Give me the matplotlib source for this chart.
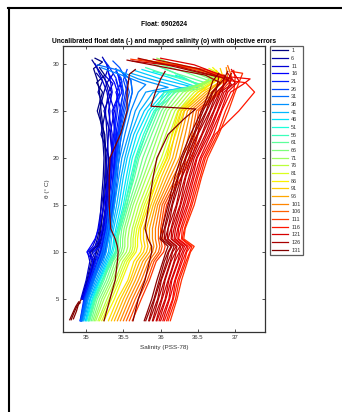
import numpy as np
import matplotlib
matplotlib.use('Agg')
import matplotlib.pyplot as plt
from matplotlib.lines import Line2D

nan = np.nan

# ---------------- data ----------------
THETA = [2.7, 5, 7, 9, 10, 10.6, 11.4, 12.5, 15, 18, 20, 22.5, 25, 27]
N_PROF = 131
LEGEND_IDS = list(range(1, 132, 5))
X_TICKS = [35, 35.5, 36, 36.5, 37]
Y_TICKS = [5, 10, 15, 20, 25, 30]

BLUE_IDS = [1, 2, 4, 5, 7, 8, 10, 11, 13, 14, 16, 17, 19, 20, 22, 23, 25, 26, 28, 29]
BLUE_SAL = [
    [nan, 34.96, 35.03, 35.10, 35.14, 35.16, 35.18, 35.20, 35.23, 35.25, 35.26, 35.24, 35.20, 35.18],
    [nan, 34.95, 35.02, 35.09, 35.06, 35.14, 35.17, 35.19, 35.24, 35.27, 35.27, 35.25, 35.15, 35.22],
    [nan, 34.94, 35.01, 35.07, 35.05, 35.12, 35.15, 35.18, 35.20, 35.23, 35.24, 35.22, 35.18, 35.24],
    [nan, 34.97, 35.04, 35.11, 35.13, 35.15, 35.20, 35.22, 35.26, 35.28, 35.31, 35.20, 35.26, 35.16],
    [nan, 34.97, 35.05, 35.12, 35.16, 35.18, 35.21, 35.23, 35.27, 35.29, 35.30, 35.28, 35.26, 35.30],
    [nan, 34.96, 35.04, 35.13, 35.08, 35.17, 35.20, 35.24, 35.28, 35.31, 35.35, 35.33, 35.24, 35.34],
    [nan, 34.93, 35.00, 35.05, 35.02, 35.09, 35.13, 35.16, 35.21, 35.26, 35.28, 35.30, 35.32, 35.28],
    [nan, 34.98, 35.07, 35.16, 35.19, 35.21, 35.23, 35.26, 35.30, 35.34, 35.36, 35.32, 35.38, 35.30],
    [nan, 34.98, 35.06, 35.15, 35.20, 35.22, 35.24, 35.26, 35.30, 35.33, 35.34, 35.35, 35.30, 35.35],
    [nan, 34.96, 35.05, 35.12, 35.04, 35.12, 35.18, 35.22, 35.27, 35.31, 35.34, 35.39, 35.35, 35.45],
    [nan, 34.95, 35.03, 35.09, 35.01, 35.06, 35.12, 35.17, 35.24, 35.30, 35.33, 35.37, 35.40, 35.42],
    [nan, 34.98, 35.07, 35.16, 35.21, 35.23, 35.26, 35.28, 35.34, 35.37, 35.39, 35.42, 35.47, 35.40],
    [nan, 34.99, 35.08, 35.18, 35.22, 35.25, 35.27, 35.29, 35.33, 35.36, 35.38, 35.40, 35.45, 35.50],
    [34.93, 34.99, 35.08, 35.17, 35.10, 35.19, 35.24, 35.27, 35.32, 35.36, 35.38, 35.41, 35.36, 35.48],
    [34.92, 34.97, 35.05, 35.13, 35.18, 35.20, 35.22, 35.25, 35.29, 35.33, 35.36, 35.38, 35.42, 35.45],
    [34.94, 35.00, 35.10, 35.20, 35.25, 35.27, 35.29, 35.31, 35.35, 35.38, 35.40, 35.44, 35.48, 35.53],
    [34.94, 35.00, 35.09, 35.19, 35.24, 35.27, 35.29, 35.31, 35.36, 35.39, 35.41, 35.44, 35.50, 35.55],
    [34.92, 34.98, 35.08, 35.18, 35.23, 35.25, 35.27, 35.30, 35.35, 35.39, 35.41, 35.43, 35.46, 35.50],
    [34.93, 34.99, 35.07, 35.16, 35.22, 35.26, 35.28, 35.31, 35.37, 35.40, 35.42, 35.45, 35.52, 35.58],
    [34.94, 35.01, 35.10, 35.21, 35.26, 35.28, 35.30, 35.33, 35.38, 35.42, 35.44, 35.47, 35.55, 35.62],
]
BLUE_TOP = [
    [(35.15, 28.3), (35.10, 29.5), (35.22, 30.2), (35.12, 30.6)],
    [(35.14, 28.0), (35.25, 28.8), (35.18, 29.6)],
    [(35.28, 28.0), (35.18, 29.2), (35.08, 30.4)],
    [(35.22, 28.2), (35.14, 29.0)],
    [(35.25, 28.5), (35.30, 29.6), (35.22, 30.7)],
    [(35.28, 28.0), (35.36, 28.9)],
    [(35.20, 28.6), (35.12, 30.0)],
    [(35.36, 27.9), (35.26, 28.7)],
    [(35.32, 28.4), (35.28, 29.8)],
    [(35.40, 28.3)],
    [(35.38, 28.0), (35.30, 29.0)],
    [(35.48, 28.1), (35.42, 29.0)],
    [(35.45, 28.2), (35.40, 29.5)],
    [(35.44, 28.4)],
    [(35.40, 28.5), (35.30, 29.8), (35.24, 30.4)],
    [(35.56, 28.0), (35.50, 28.8)],
    [(35.50, 28.3), (35.55, 29.4)],
    [(35.47, 28.5), (35.40, 29.2)],
    [(35.52, 28.6), (35.45, 29.6), (35.36, 30.3)],
    [(35.60, 28.3), (35.50, 29.0)],
]

CYAN_IDS = [31, 34, 37, 40, 43, 46, 49, 52, 55]
CYAN_SAL = [
    [34.93, 35.00, 35.09, 35.17, 35.21, 35.23, 35.25, 35.28, 35.31, 35.38, 35.42, 35.48, 35.56, 35.62],
    [34.95, 35.02, 35.11, 35.20, 35.24, 35.25, 35.27, 35.30, 35.34, 35.40, 35.45, 35.52, 35.60, 35.70],
    [34.96, 35.03, 35.13, 35.23, 35.27, 35.28, 35.30, 35.33, 35.38, 35.44, 35.48, 35.57, 35.66, 35.80],
    [34.97, 35.05, 35.15, 35.25, 35.30, 35.31, 35.32, 35.35, 35.41, 35.47, 35.52, 35.60, 35.72, 35.90],
    [34.99, 35.06, 35.17, 35.27, 35.32, 35.33, 35.34, 35.37, 35.44, 35.50, 35.55, 35.64, 35.78, 35.98],
    [35.00, 35.08, 35.18, 35.29, 35.34, 35.36, 35.37, 35.40, 35.47, 35.54, 35.59, 35.68, 35.83, 36.05],
    [35.01, 35.09, 35.19, 35.31, 35.36, 35.38, 35.38, 35.42, 35.50, 35.57, 35.62, 35.73, 35.87, 36.10],
    [35.03, 35.10, 35.21, 35.33, 35.39, 35.40, 35.40, 35.44, 35.52, 35.60, 35.66, 35.77, 35.91, 36.15],
    [35.04, 35.12, 35.22, 35.35, 35.41, 35.42, 35.42, 35.46, 35.55, 35.63, 35.69, 35.80, 35.94, 36.20],
]
CYAN_TOP = [
    [(35.60, 28.3), (35.45, 29.3), (35.15, 29.9)],
    [(35.80, 27.8), (35.55, 28.6), (35.20, 29.6)],
    [(36.10, 27.5), (35.70, 28.4), (35.40, 29.4)],
    [(36.30, 27.4), (35.90, 28.3), (35.60, 29.0)],
    [(36.40, 27.6), (36.00, 28.4), (35.65, 29.3)],
    [(36.50, 27.5), (36.10, 28.6), (35.75, 29.4)],
    [(36.55, 27.7), (36.20, 28.8)],
    [(36.60, 27.4), (36.30, 28.5), (35.90, 29.2)],
    [(36.50, 27.8), (36.20, 29.0), (35.95, 29.8)],
]

GREEN_IDS = [58, 61, 64, 67, 70, 73, 76, 79, 82, 85]
GREEN_SAL = [
    [35.03, 35.11, 35.22, 35.31, 35.39, 35.41, 35.41, 35.43, 35.52, 35.62, 35.67, 35.80, 35.93, 36.05],
    [35.05, 35.13, 35.24, 35.33, 35.41, 35.43, 35.43, 35.45, 35.54, 35.65, 35.71, 35.84, 35.97, 36.12],
    [35.07, 35.15, 35.27, 35.36, 35.44, 35.46, 35.46, 35.48, 35.57, 35.69, 35.76, 35.88, 36.01, 36.18],
    [35.09, 35.18, 35.30, 35.39, 35.47, 35.49, 35.49, 35.51, 35.60, 35.73, 35.81, 35.93, 36.05, 36.24],
    [35.11, 35.21, 35.33, 35.42, 35.50, 35.52, 35.52, 35.54, 35.63, 35.77, 35.86, 35.97, 36.09, 36.30],
    [35.13, 35.24, 35.36, 35.45, 35.54, 35.56, 35.56, 35.58, 35.67, 35.81, 35.91, 36.02, 36.14, 36.35],
    [35.16, 35.28, 35.39, 35.49, 35.58, 35.60, 35.60, 35.62, 35.71, 35.86, 35.96, 36.07, 36.19, 36.40],
    [35.18, 35.31, 35.42, 35.52, 35.61, 35.63, 35.63, 35.65, 35.75, 35.90, 36.01, 36.12, 36.23, 36.45],
    [35.21, 35.34, 35.45, 35.55, 35.64, 35.66, 35.66, 35.68, 35.78, 35.94, 36.05, 36.16, 36.27, 36.50],
    [35.24, 35.38, 35.48, 35.58, 35.67, 35.69, 35.69, 35.71, 35.81, 35.97, 36.09, 36.20, 36.31, 36.55],
]
GREEN_TOP = [
    [(36.55, 27.8), (36.10, 28.8), (35.80, 29.6)],
    [(36.60, 28.0), (36.20, 29.0), (35.90, 30.0)],
    [(36.65, 28.2), (36.30, 29.2), (35.85, 30.3)],
    [(36.70, 28.3), (36.35, 29.4), (36.00, 30.4)],
    [(36.75, 28.4), (36.40, 29.3), (35.95, 30.6)],
    [(36.70, 28.6), (36.45, 29.5)],
    [(36.75, 28.5), (36.55, 29.4), (36.20, 30.0)],
    [(36.80, 28.6), (36.60, 29.2)],
    [(36.85, 28.7), (36.65, 29.5)],
    [(36.80, 28.8), (36.70, 29.6)],
]

ORANGE_IDS = [88, 91, 94, 97, 100, 103, 106, 109, 112]
ORANGE_SAL = [
    [35.30, 35.42, 35.56, 35.64, 35.73, 35.75, 35.73, 35.73, 35.84, 35.97, 36.08, 36.15, 36.24, 36.50],
    [35.34, 35.46, 35.59, 35.68, 35.77, 35.79, 35.77, 35.77, 35.87, 36.01, 36.12, 36.19, 36.28, 36.55],
    [35.38, 35.50, 35.62, 35.72, 35.81, 35.83, 35.81, 35.81, 35.90, 36.05, 36.16, 36.24, 36.32, 36.60],
    [35.42, 35.54, 35.66, 35.76, 35.85, 35.87, 35.85, 35.85, 35.93, 36.09, 36.20, 36.28, 36.36, 36.64],
    [35.46, 35.58, 35.70, 35.80, 35.89, 35.91, 35.89, 35.89, 35.96, 36.13, 36.25, 36.33, 36.40, 36.68],
    [35.50, 35.62, 35.74, 35.84, 35.93, 35.95, 35.93, 35.93, 35.99, 36.17, 36.30, 36.38, 36.44, 36.72],
    [35.54, 35.66, 35.78, 35.88, 35.97, 35.99, 35.97, 35.97, 36.02, 36.21, 36.34, 36.42, 36.48, 36.76],
    [35.58, 35.70, 35.82, 35.91, 36.00, 36.02, 36.00, 36.00, 36.05, 36.24, 36.38, 36.46, 36.51, 36.78],
    [35.62, 35.74, 35.85, 35.94, 36.04, 36.06, 36.03, 36.02, 36.08, 36.28, 36.42, 36.50, 36.54, 36.80],
]
ORANGE_TOP = [
    [(36.80, 28.5), (36.75, 29.3)],
    [(36.85, 28.3), (36.80, 29.5)],
    [(36.90, 28.4), (36.70, 29.0), (36.20, 30.0)],
    [(36.85, 28.6), (36.60, 29.2), (35.95, 30.3)],
    [(36.90, 28.5), (36.88, 29.6)],
    [(36.85, 28.8), (36.50, 29.4), (35.80, 30.4)],
    [(36.95, 28.7), (36.90, 29.8)],
    [(36.90, 28.5), (36.40, 29.6), (35.70, 30.5)],
    [(36.95, 28.3), (36.60, 29.4), (35.60, 30.5)],
]

RED_IDS = [129, 128, 127, 126, 125, 124, 123, 122, 121, 120, 119, 118, 116, 115, 113]
RED_SAL = [
    [35.78, 35.88, 35.95, 36.03, 36.07, 36.10, 35.99, 36.02, 36.10, 36.19, 36.27, 36.40, 36.55, 36.65],
    [35.80, 35.91, 35.98, 36.05, 36.10, 36.14, 36.01, 36.05, 36.12, 36.23, 36.29, 36.44, 36.57, 36.69],
    [35.84, 35.92, 36.00, 36.08, 36.11, 36.15, 36.05, 36.06, 36.15, 36.24, 36.33, 36.45, 36.61, 36.70],
    [35.85, 35.96, 36.01, 36.10, 36.15, 36.18, 36.06, 36.10, 36.16, 36.28, 36.34, 36.49, 36.62, 36.74],
    [35.89, 35.97, 36.05, 36.13, 36.16, 36.21, 36.09, 36.10, 36.21, 36.29, 36.38, 36.50, 36.66, 36.75],
    [35.90, 36.01, 36.06, 36.14, 36.20, 36.22, 36.10, 36.14, 36.22, 36.33, 36.40, 36.55, 36.67, 36.79],
    [35.94, 36.02, 36.10, 36.18, 36.21, 36.26, 36.14, 36.15, 36.26, 36.34, 36.43, 36.56, 36.71, 36.80],
    [35.95, 36.06, 36.11, 36.19, 36.25, 36.27, 36.15, 36.18, 36.27, 36.38, 36.45, 36.60, 36.72, 36.83],
    [35.98, 36.07, 36.14, 36.23, 36.26, 36.30, 36.18, 36.20, 36.30, 36.40, 36.48, 36.62, 36.76, 36.85],
    [36.00, 36.11, 36.15, 36.24, 36.29, 36.32, 36.20, 36.23, 36.32, 36.43, 36.49, 36.65, 36.77, 36.88],
    [36.03, 36.12, 36.19, 36.27, 36.31, 36.35, 36.23, 36.24, 36.35, 36.45, 36.53, 36.67, 36.81, 36.90],
    [36.05, 36.16, 36.20, 36.29, 36.34, 36.37, 36.24, 36.27, 36.37, 36.48, 36.55, 36.71, 36.82, 36.94],
    [36.08, 36.17, 36.23, 36.32, 36.35, 36.40, 36.28, 36.29, 36.40, 36.50, 36.58, 36.73, 37.05, 37.26],
    [36.10, 36.20, 36.25, 36.34, 36.39, 36.42, 36.29, 36.32, 36.42, 36.53, 36.60, 36.76, 36.87, 36.98],
    [36.13, 36.22, 36.28, 36.36, 36.40, 36.45, 36.31, 36.33, 36.45, 36.55, 36.63, 36.78, 36.91, 37.00],
]
RED_TOP = [
    [(36.70, 28.2), (36.78, 29.0)],
    [(36.80, 28.0), (36.60, 28.8), (35.55, 30.4)],
    [(36.85, 28.4), (36.90, 29.2)],
    [(36.78, 28.6), (36.40, 29.3), (35.70, 30.6)],
    [(36.88, 28.0), (36.95, 29.0)],
    [(36.90, 28.3), (36.50, 29.5), (35.90, 30.5)],
    [(36.95, 27.8), (36.85, 28.8)],
    [(36.85, 28.5), (36.20, 29.8), (35.62, 30.3)],
    [(37.00, 28.0), (36.90, 29.0)],
    [(36.95, 28.4), (36.45, 29.9), (36.00, 30.6)],
    [(37.05, 28.2), (36.95, 29.4)],
    [(37.10, 27.8), (37.20, 28.4), (36.95, 28.6)],
    [(37.14, 28.0), (36.85, 28.3)],
    [(37.00, 28.5), (36.98, 29.3)],
    [(37.05, 28.0), (37.10, 29.0), (36.95, 29.2)],
]

MAROON_IDS = [131, 130]
MAROON_SAL = [
    [35.24, 35.32, 35.39, 35.42, 35.43, 35.42, 35.39, 35.33, 35.31, 35.31, 35.32, 35.46, 35.55, 35.55],
    [35.63, 35.70, 35.79, 35.85, 35.88, 35.88, 35.83, 35.79, 35.84, 35.90, 35.95, 36.10, nan, nan],
]
MAROON_TOP = [
    [(35.58, 28.9), (35.66, 29.4)],
    [(36.32, 24.2), (36.47, 25.2), (35.87, 25.5), (35.93, 27.0), (36.00, 28.4), (36.06, 29.2)],
]

DEEP_IDS = [131, 131, 130]
DEEP_SAL = [[34.78, 34.82, 34.86, 34.90], [34.80, 34.84, 34.88, 34.92], [34.83, 34.87, 34.90, 34.93]]
DEEP_THETA = [[2.8, 3.5, 4.2, 4.7], [2.8, 3.6, 4.3, 4.6], [2.9, 3.7, 4.5, 4.9]]

# ---------------- figure ----------------
plt.rcParams['font.family'] = ['Liberation Sans', 'DejaVu Sans']
fig = plt.figure(figsize=(3.42, 4.12), dpi=100)
W, H = 342.0, 412.0
ax = fig.add_axes([63 / W, 1 - 332 / H, 202 / W, 286 / H])

cmap = plt.get_cmap('jet')


def col(p):
    return cmap((p - 1) / (N_PROF - 1))


profiles = []
for ids, sal, top in [(BLUE_IDS, BLUE_SAL, BLUE_TOP), (CYAN_IDS, CYAN_SAL, CYAN_TOP),
                      (GREEN_IDS, GREEN_SAL, GREEN_TOP), (ORANGE_IDS, ORANGE_SAL, ORANGE_TOP),
                      (RED_IDS, RED_SAL, RED_TOP), (MAROON_IDS, MAROON_SAL, MAROON_TOP)]:
    for p, s, t in zip(ids, sal, top):
        xs = [v for v in s if not np.isnan(v)] + [q[0] for q in t]
        ys = [th for th, v in zip(THETA, s) if not np.isnan(v)] + [q[1] for q in t]
        profiles.append((p, xs, ys))
for p, s, t in zip(DEEP_IDS, DEEP_SAL, DEEP_THETA):
    profiles.append((p, s, t))

profiles.sort(key=lambda r: r[0])
for p, xs, ys in profiles:
    ax.plot(xs, ys, color=col(p), lw=0.9, solid_joinstyle='round')

ax.set_xlim(34.69, 37.40)
ax.set_ylim(1.5, 31.9)
ax.set_xticks(X_TICKS)
ax.set_xticklabels(['35', '35.5', '36', '36.5', '37'])
ax.set_yticks(Y_TICKS)
ax.tick_params(direction='in', length=2.5, width=0.6, colors='#333333', labelsize=4.3,
               top=True, right=True, pad=2.5)
for sp in ax.spines.values():
    sp.set_color('#333333')
    sp.set_linewidth(0.9)

ax.set_xlabel('Salinity (PSS-78)', fontsize=4.6, color='#333333', labelpad=3)
ax.set_ylabel('θ (° C)', fontsize=4.6, color='#333333', labelpad=2)
ax.set_title('Uncalibrated float data (-) and mapped salinity (o) with objective errors',
             fontsize=4.8, fontweight='bold', pad=2)
fig.text(164 / W, 1 - 24 / H, 'Float: 6902624', ha='center', va='center',
         fontsize=4.8, fontweight='bold')

handles = [Line2D([], [], color=col(p), lw=0.9) for p in LEGEND_IDS]
leg = fig.legend(handles, [str(p) for p in LEGEND_IDS], loc='upper left',
                 bbox_to_anchor=(270 / W, 1 - 46 / H), bbox_transform=fig.transFigure,
                 fontsize=4, frameon=True, fancybox=False, handlelength=2.9,
                 handletextpad=0.5, labelspacing=0.48, borderpad=0.4, borderaxespad=0)
leg.get_frame().set_edgecolor('#333333')
leg.get_frame().set_linewidth(0.9)
for t in leg.get_texts():
    t.set_color('#333333')

fig.add_artist(Line2D([8 / W, 1], [1 - 8 / H, 1 - 8 / H], transform=fig.transFigure,
                      color='black', lw=1.5))
fig.add_artist(Line2D([9 / W, 9 / W], [0, 1 - 8 / H], transform=fig.transFigure,
                      color='black', lw=1.5))

fig.savefig('out.png', dpi=100)
